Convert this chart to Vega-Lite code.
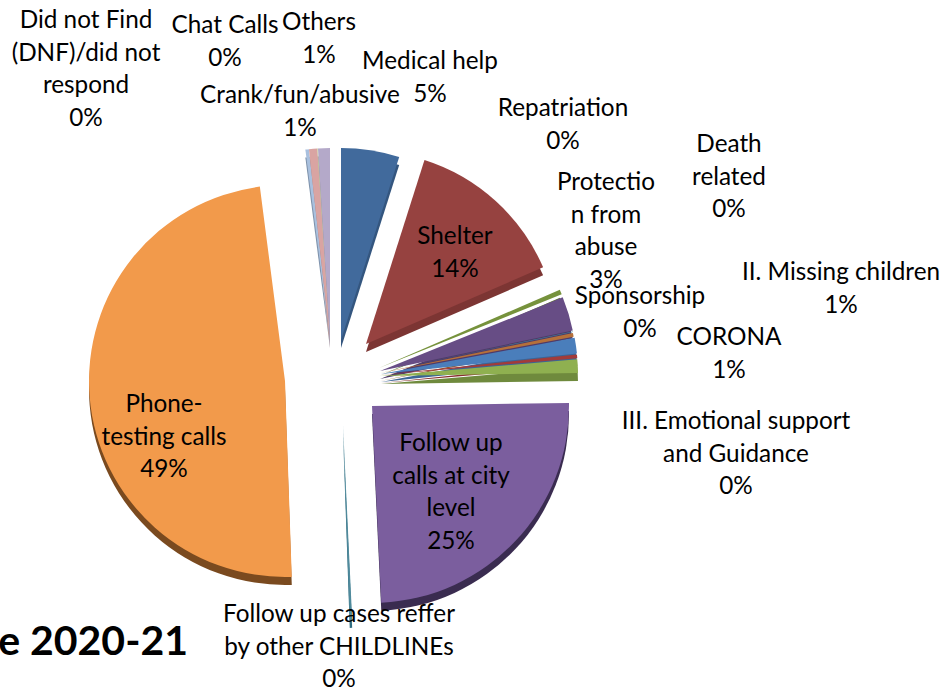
{
"$schema":"https://vega.github.io/schema/vega-lite/v6.json",
"width":952,"height":693,"padding":0,"autosize":{"type":"none"},
"background":"white",
"config":{"view":{"stroke":null},"text":{"font":"Lato","fontSize":24.3,"color":"#000000"}},
"datasets":{"slices":[
{"order":1,"name":"Medical help","value":4.9,"label":"Medical help"},
{"order":2,"name":"Shelter","value":13.6,"label":"Shelter"},
{"order":3,"name":"Repatriation","value":0.4,"label":"Repatriation"},
{"order":4,"name":"Protection from abuse","value":2.8,"label":"Protectio\nn from\nabuse"},
{"order":5,"name":"Death related","value":0.05,"label":"Death\nrelated"},
{"order":6,"name":"Sponsorship","value":0.3,"label":"Sponsorship"},
{"order":7,"name":"II. Missing children","value":1.3,"label":"II. Missing children"},
{"order":8,"name":"III. Emotional support and Guidance","value":0.3,"label":"III. Emotional support\nand Guidance"},
{"order":9,"name":"CORONA","value":1.1,"label":"CORONA"},
{"order":10,"name":"Follow up calls at city level","value":24.5,"label":"Follow up\ncalls at city\nlevel"},
{"order":11,"name":"Follow up cases reffer by other CHILDLINEs","value":0.2,"label":"Follow up cases reffer\nby other CHILDLINEs"},
{"order":12,"name":"Phone-testing calls","value":48.5,"label":"Phone-\ntesting calls"},
{"order":13,"name":"Did not Find (DNF)/did not respond","value":0.3,"label":"Did not Find\n(DNF)/did not\nrespond"},
{"order":14,"name":"Crank/fun/abusive","value":0.7,"label":"Crank/fun/abusive"},
{"order":15,"name":"Chat Calls","value":0.05,"label":"Chat Calls"},
{"order":16,"name":"Others","value":1.0,"label":"Others"}
]},
"layer":[
{"data":{"name":"slices"},
 "transform":[{"stack":"value","sort":[{"field":"order"}],"as":["start","end"]}],
 "mark":{"type":"arc","yOffset":8},
 "encoding":{
  "x":{"field":"order","type":"quantitative","axis":null,"scale":{"nice":false,"zero":false,"domain":[1,2,3,4,5,6,7,8,9,10,11,12,13,14,15,16],"range":[341,366,379,380,380,380,381,381,381,372,343,285,330,330,330,330]}},
  "y":{"field":"order","type":"quantitative","axis":null,"scale":{"nice":false,"zero":false,"domain":[1,2,3,4,5,6,7,8,9,10,11,12,13,14,15,16],"range":[340,344,368,371,372,373,374,375,376,406,425,381,340,340,340,340]}},
  "radius":{"field":"order","type":"quantitative","legend":null,"scale":{"type":"linear","nice":false,"zero":false,"domain":[1,2,3,4,5,6,7,8,9,10,11,12,13,14,15,16],"range":[192,193,197,197,197,197,197,197,197,197,195,196,192,192,192,192]}},
  "radius2":{"value":0},
  "theta":{"field":"start","type":"quantitative","scale":{"domain":[0,100],"range":[0,6.28319]}},
  "theta2":{"field":"end"},
  "color":{"field":"name","type":"nominal","legend":null,"sort":null,"scale":{"domain":["Medical help","Shelter","Repatriation","Protection from abuse","Death related","Sponsorship","II. Missing children","III. Emotional support and Guidance","CORONA","Follow up calls at city level","Follow up cases reffer by other CHILDLINEs","Phone-testing calls","Did not Find (DNF)/did not respond","Crank/fun/abusive","Chat Calls","Others"],
   "range":["#34567f","#7c3533","#5f7a2f","#4f3a68","#2e6f80","#8f5a2d","#3b6596","#852f2e","#6f8a3d","#3a2c50","#2f6c80","#7a4a1f","#7e92ab","#a87d7b","#93a377","#8a8099"]}}
 }},
{"data":{"name":"slices"},
 "transform":[{"stack":"value","sort":[{"field":"order"}],"as":["start","end"]}],
 "mark":{"type":"arc"},
 "encoding":{
  "x":{"field":"order","type":"quantitative","axis":null,"scale":{"nice":false,"zero":false,"domain":[1,2,3,4,5,6,7,8,9,10,11,12,13,14,15,16],"range":[341,366,379,380,380,380,381,381,381,372,343,285,330,330,330,330]}},
  "y":{"field":"order","type":"quantitative","axis":null,"scale":{"nice":false,"zero":false,"domain":[1,2,3,4,5,6,7,8,9,10,11,12,13,14,15,16],"range":[340,344,368,371,372,373,374,375,376,406,425,381,340,340,340,340]}},
  "radius":{"field":"order","type":"quantitative","legend":null,"scale":{"type":"linear","nice":false,"zero":false,"domain":[1,2,3,4,5,6,7,8,9,10,11,12,13,14,15,16],"range":[192,193,197,197,197,197,197,197,197,197,195,196,192,192,192,192]}},
  "radius2":{"value":0},
  "theta":{"field":"start","type":"quantitative","scale":{"domain":[0,100],"range":[0,6.28319]}},
  "theta2":{"field":"end"},
  "color":{"field":"name","type":"nominal","legend":null,"sort":null,"scale":{"domain":["Medical help","Shelter","Repatriation","Protection from abuse","Death related","Sponsorship","II. Missing children","III. Emotional support and Guidance","CORONA","Follow up calls at city level","Follow up cases reffer by other CHILDLINEs","Phone-testing calls","Did not Find (DNF)/did not respond","Crank/fun/abusive","Chat Calls","Others"],
   "range":["#416a9c","#964240","#76923c","#674d85","#3a8aa0","#b5703a","#4a7ebb","#a23b3a","#8fb050","#7b5e9e","#4f8a9c","#f29a4b","#a9c0de","#d9a4a2","#c0d49b","#b4a9c9"]}}
 }},
{"data":{"name":"slices"},
 "transform":[{"calculate":"datum.label + '\\n' + round(datum.value) + '%'","as":"text"}],
 "mark":{"type":"text","lineBreak":"\n","lineHeight":32.5,"align":"center","baseline":"middle"},
 "encoding":{
  "x":{"field":"order","type":"quantitative","axis":null,"scale":{"nice":false,"zero":false,"domain":[1,2,3,4,5,6,7,8,9,10,11,12,13,14,15,16],"range":[430,455,563,606,729,640,841,736,729,451,339,164,86,300,225,319]}},
  "y":{"field":"order","type":"quantitative","axis":null,"scale":{"nice":false,"zero":false,"domain":[1,2,3,4,5,6,7,8,9,10,11,12,13,14,15,16],"range":[62,237,109,183,145,297,273,422,338,444,615,405,21,96,26,23]}},
  "text":{"field":"text","type":"nominal"}
 }},
{"data":{"values":[{"order":1,"text":"e 2020-21"}]},
 "mark":{"type":"text","align":"right","baseline":"middle","fontWeight":"bold","fontSize":41},
 "encoding":{
  "x":{"field":"order","type":"quantitative","axis":null,"scale":{"nice":false,"zero":false,"domain":[1,2],"range":[188,300]}},
  "y":{"field":"order","type":"quantitative","axis":null,"scale":{"nice":false,"zero":false,"domain":[1,2],"range":[643,700]}},
  "text":{"field":"text","type":"nominal"}
 }}
],
"resolve":{"scale":{"x":"independent","y":"independent","color":"independent","theta":"independent","radius":"independent"}}
}
